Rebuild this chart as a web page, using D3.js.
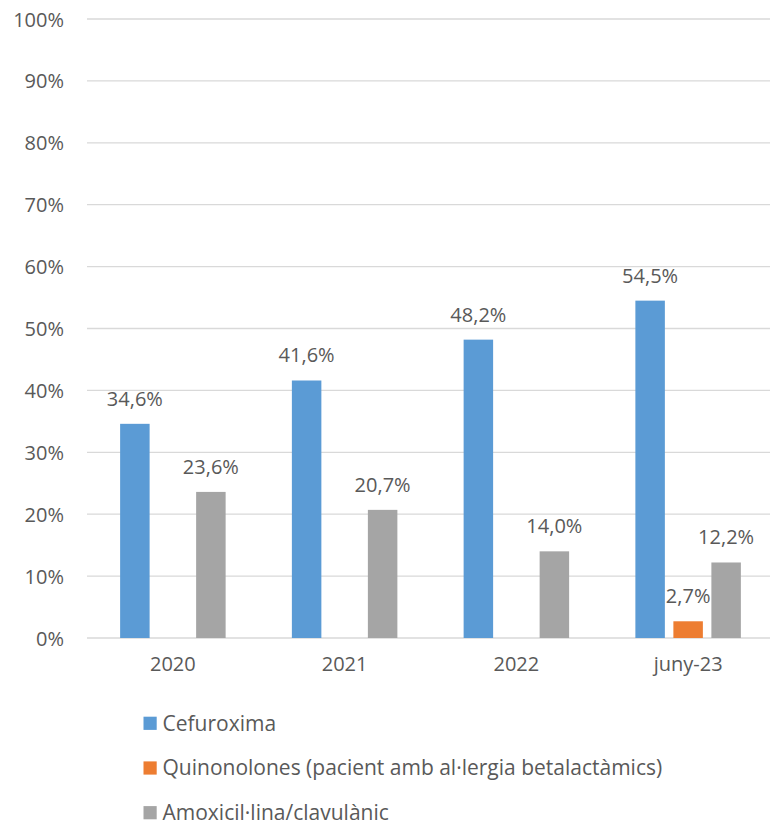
<!DOCTYPE html>
<html>
<head>
<meta charset="utf-8">
<script src="https://cdn.jsdelivr.net/npm/d3@7"></script>
<style>
  html, body { margin: 0; padding: 0; background: #fff; }
  svg { display: block; font-family: "Open Sans", sans-serif; }
</style>
</head>
<body>
<svg id="chart" width="770" height="823"></svg>
<script>
// Categories, series and tick values
const categories = ["2020", "2021", "2022", "juny-23"];
const seriesNames = [
  "Cefuroxima",
  "Quinonolones (pacient amb al·lergia betalactàmics)",
  "Amoxicil·lina/clavulànic"
];
const cefuroxima = [34.6, 41.6, 48.2, 54.5];
const quinolones = [null, null, null, 2.7];
const amoxicilina = [23.6, 20.7, 14.0, 12.2];
const yTicks = [0, 10, 20, 30, 40, 50, 60, 70, 80, 90, 100];
const colors = ["#5B9BD5", "#ED7D31", "#A5A5A5"];

const seriesValues = [cefuroxima, quinolones, amoxicilina];
const fmt = v => v.toFixed(1).replace(".", ",") + "%";
const textColor = "#595959";

const svg = d3.select("#chart");

const x = d3.scaleBand().domain(categories).range([87, 774]).padding(0);
// three bars per group, ~29.5px wide on a 38px pitch, centred in the band
const xInner = d3.scaleBand().domain(seriesNames)
  .range([x.bandwidth() / 2 - 52.75, x.bandwidth() / 2 + 52.75]).paddingInner(0.224);
const y = d3.scaleLinear().domain([0, 100]).range([638, 19]);

// Gridlines
svg.append("g")
  .selectAll("line")
  .data(yTicks)
  .join("line")
  .attr("x1", 87).attr("x2", 774)
  .attr("y1", d => y(d)).attr("y2", d => y(d))
  .attr("stroke", "#D9D9D9").attr("stroke-width", 1.3);

// Y axis labels
const yAxis = d3.axisLeft(y).tickValues(yTicks).tickFormat(d => d + "%").tickSize(0).tickPadding(0);
const gy = svg.append("g").attr("transform", "translate(64,0)").call(yAxis);
gy.select(".domain").remove();
gy.selectAll("text")
  .attr("fill", textColor).attr("font-size", 20)
  .attr("font-family", "Open Sans, sans-serif")
  .attr("dy", "0.35em");

// X axis labels
const xAxis = d3.axisBottom(x).tickSize(0).tickPadding(0);
const gx = svg.append("g").attr("transform", "translate(0,657)").call(xAxis);
gx.select(".domain").remove();
gx.selectAll("text")
  .attr("fill", textColor).attr("font-size", 20)
  .attr("font-family", "Open Sans, sans-serif")
  .attr("dy", "0.71em");

// Bars and value labels
seriesNames.forEach((name, si) => {
  const vals = seriesValues[si];
  const pts = categories.map((c, i) => ({ c, v: vals[i] })).filter(d => d.v != null);
  const g = svg.append("g");
  g.selectAll("rect")
    .data(pts)
    .join("rect")
    .attr("x", d => x(d.c) + xInner(name))
    .attr("width", xInner.bandwidth())
    .attr("y", d => y(d.v))
    .attr("height", d => y(0) - y(d.v))
    .attr("fill", colors[si]);
  g.selectAll("text")
    .data(pts)
    .join("text")
    .attr("x", d => x(d.c) + xInner(name) + xInner.bandwidth() / 2)
    .attr("y", d => y(d.v) - 18)
    .attr("text-anchor", "middle")
    .attr("fill", textColor)
    .attr("font-size", 20)
    .text(d => fmt(d.v));
});

// Legend
const legend = svg.append("g")
  .selectAll("g")
  .data(seriesNames)
  .join("g")
  .attr("transform", (d, i) => `translate(143.5,${723.3 + i * 44.7})`);
legend.append("rect")
  .attr("x", 0).attr("y", -6.6).attr("width", 13.2).attr("height", 13.2)
  .attr("fill", (d, i) => colors[i]);
legend.append("text")
  .attr("x", 19).attr("y", 0).attr("dy", "0.35em")
  .attr("fill", textColor).attr("font-size", 21)
  .text(d => d);
</script>
</body>
</html>
